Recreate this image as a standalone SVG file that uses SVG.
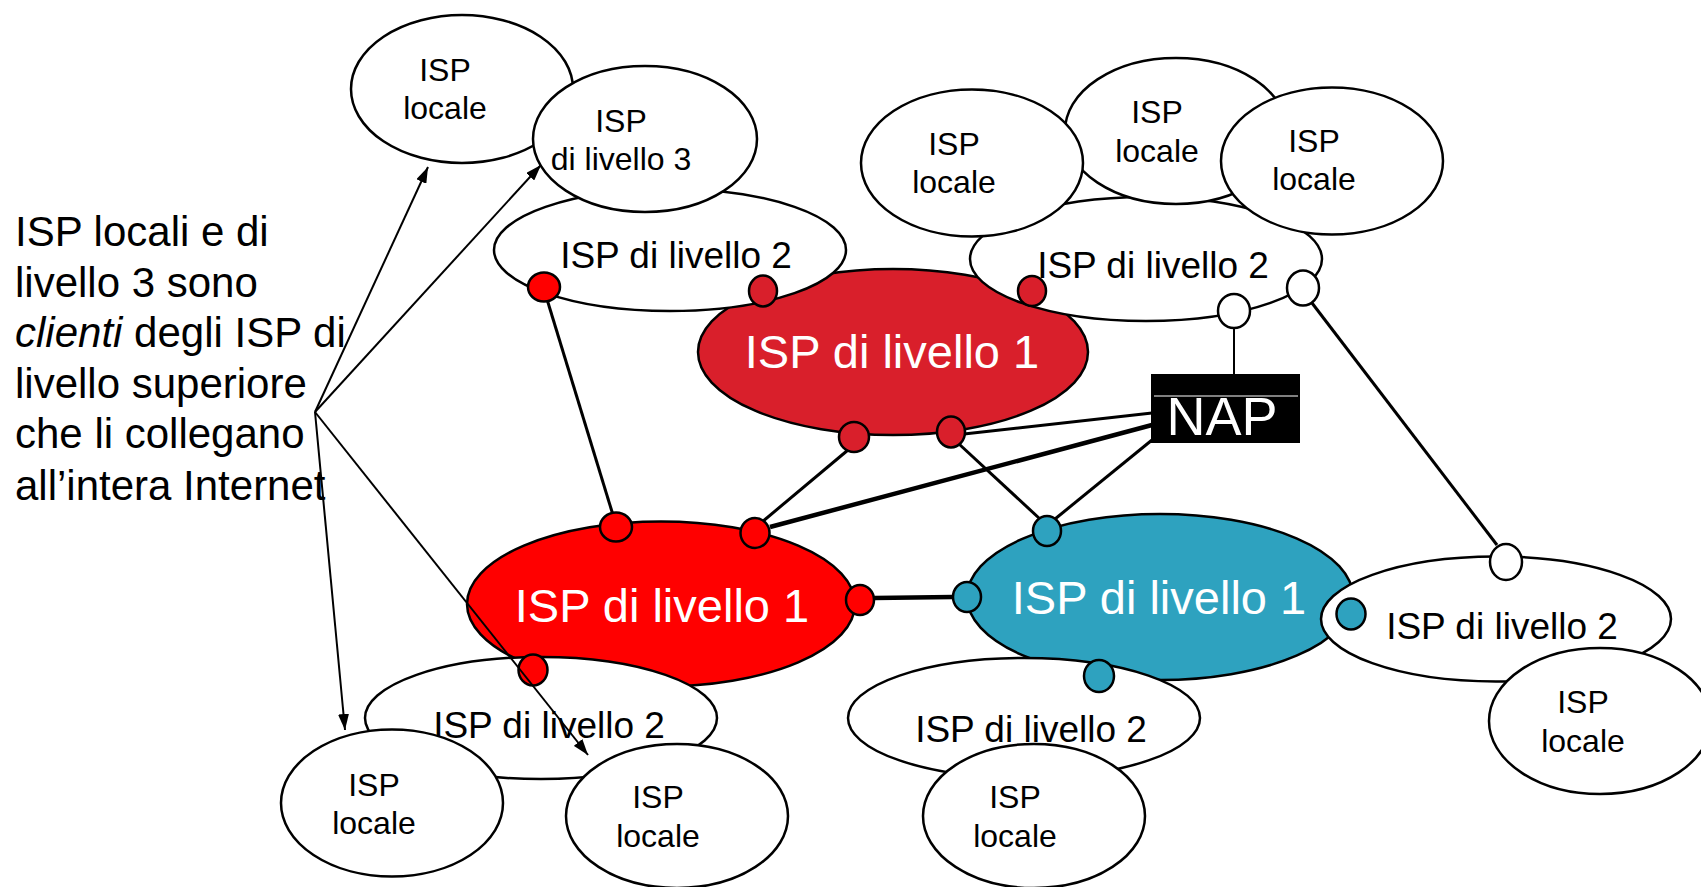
<svg xmlns="http://www.w3.org/2000/svg" width="1701" height="887" viewBox="0 0 1701 887">
<style>
  .el { stroke: #000; stroke-width: 2.5; }
  .w { fill: #fff; }
  .r1 { fill: #D91F2B; }
  .r2 { fill: #FF0000; }
  .tl { fill: #2EA2BF; }
  .t { font-family: "Liberation Sans", Arial, sans-serif; fill: #000; text-anchor: middle; }
  .s31 { font-size: 32px; }
  .s35 { font-size: 37px; }
  .big { font-size: 47px; fill: #fff; }
  .ln { stroke: #000; stroke-width: 3; fill: none; }
  .thick { stroke-width: 4.5; }
  .thin { stroke-width: 2; }
  .ar { stroke: #000; stroke-width: 2; fill: none; marker-end: url(#ah); }
  .port { stroke: #000; stroke-width: 2.5; }
  .lt { font-family: "Liberation Sans", Arial, sans-serif; font-size: 42px; fill: #000; }
</style>
<defs>
  <marker id="ah" markerUnits="userSpaceOnUse" markerWidth="17" markerHeight="11" refX="16" refY="5.5" orient="auto">
    <path d="M0,0 L16,5.5 L0,11 z" fill="#000"/>
  </marker>
</defs>

<g id="locale-tl">
  <ellipse class="el w" cx="462" cy="89" rx="111" ry="74"/>
  <text class="t s31" x="445" y="81">ISP</text>
  <text class="t s31" x="445" y="119">locale</text>
</g>

<g id="tier1-top">
  <ellipse class="el r1" cx="893" cy="352" rx="195" ry="83"/>
  <text class="t big" x="892" y="368">ISP di livello 1</text>
</g>

<g id="tier2-tl">
  <ellipse class="el w" cx="670" cy="250" rx="176" ry="61"/>
  <text class="t s35" x="676" y="268">ISP di livello 2</text>
</g>

<g id="tier3">
  <ellipse class="el w" cx="645" cy="139" rx="112" ry="73"/>
  <text class="t s31" x="621" y="132">ISP</text>
  <text class="t s31" x="621" y="170">di livello 3</text>
</g>

<g id="tier2-tr">
  <ellipse class="el w" cx="1146" cy="259" rx="176" ry="62"/>
  <text class="t s35" x="1153" y="278">ISP di livello 2</text>
</g>

<g id="locale-tr-mid">
  <ellipse class="el w" cx="1176" cy="131" rx="111" ry="73"/>
  <text class="t s31" x="1157" y="123">ISP</text>
  <text class="t s31" x="1157" y="162">locale</text>
</g>
<g id="locale-tr-left">
  <ellipse class="el w" cx="972" cy="163" rx="111" ry="73.5"/>
  <text class="t s31" x="954" y="155">ISP</text>
  <text class="t s31" x="954" y="193">locale</text>
</g>
<g id="locale-tr-right">
  <ellipse class="el w" cx="1332" cy="161" rx="111" ry="73.5"/>
  <text class="t s31" x="1314" y="152">ISP</text>
  <text class="t s31" x="1314" y="190">locale</text>
</g>

<g id="tier1-left">
  <ellipse class="el r2" cx="661" cy="604" rx="194" ry="82.5"/>
  <text class="t big" x="662" y="622">ISP di livello 1</text>
</g>

<g id="tier1-teal">
  <ellipse class="el tl" cx="1160" cy="597" rx="193" ry="83"/>
  <text class="t big" x="1159" y="614">ISP di livello 1</text>
</g>

<g id="tier2-bl">
  <ellipse class="el w" cx="541" cy="718" rx="176" ry="61"/>
  <text class="t s35" x="549" y="738">ISP di livello 2</text>
</g>
<g id="locale-bl-1">
  <ellipse class="el w" cx="392" cy="803" rx="111" ry="73.5"/>
  <text class="t s31" x="374" y="796">ISP</text>
  <text class="t s31" x="374" y="834">locale</text>
</g>
<g id="locale-bl-2">
  <ellipse class="el w" cx="677" cy="816" rx="111" ry="72"/>
  <text class="t s31" x="658" y="808">ISP</text>
  <text class="t s31" x="658" y="847">locale</text>
</g>

<g id="tier2-bm">
  <ellipse class="el w" cx="1024" cy="718" rx="176" ry="60"/>
  <text class="t s35" x="1031" y="742">ISP di livello 2</text>
</g>
<g id="locale-bm">
  <ellipse class="el w" cx="1034" cy="816" rx="111" ry="72"/>
  <text class="t s31" x="1015" y="808">ISP</text>
  <text class="t s31" x="1015" y="847">locale</text>
</g>

<g id="tier2-r">
  <ellipse class="el w" cx="1496" cy="619" rx="175" ry="62.5"/>
  <text class="t s35" x="1502" y="639">ISP di livello 2</text>
</g>
<g id="locale-r">
  <ellipse class="el w" cx="1600" cy="721" rx="111" ry="73"/>
  <text class="t s31" x="1583" y="713">ISP</text>
  <text class="t s31" x="1583" y="752">locale</text>
</g>

<g id="nap">
  <rect x="1151" y="374" width="149" height="69" fill="#000"/>
  <line x1="1154" y1="396" x2="1298" y2="396" stroke="#fff" stroke-width="1"/>
  <text x="1222" y="435" font-family="Liberation Sans, Arial, sans-serif" font-size="54" fill="#fff" text-anchor="middle">NAP</text>
</g>

<g id="connectors">
  <line class="ln" x1="546" y1="296" x2="613" y2="515"/>
  <line class="ln" x1="848" y1="450" x2="762" y2="522"/>
  <line class="ln" x1="959" y1="444" x2="1040" y2="519"/>
  <line class="ln" x1="964" y1="434" x2="1152" y2="413"/>
  <line class="ln thick" x1="1152" y1="425" x2="770" y2="527"/>
  <line class="ln" x1="1152" y1="440" x2="1055" y2="519"/>
  <line class="ln thick" x1="874" y1="598" x2="953" y2="597"/>
  <line class="ln thin" x1="1234" y1="328" x2="1234" y2="374"/>
  <line class="ln" x1="1312" y1="303" x2="1497" y2="545"/>
</g>

<g id="ports">
  <ellipse class="port r2" cx="544" cy="287" rx="16" ry="14.5"/>
  <ellipse class="port r1" cx="763" cy="291" rx="14" ry="15.5"/>
  <ellipse class="port r1" cx="1032" cy="291" rx="14" ry="15"/>
  <ellipse class="port w" cx="1234" cy="311" rx="16" ry="17"/>
  <ellipse class="port w" cx="1303" cy="288" rx="16" ry="17.5"/>
  <ellipse class="port r1" cx="854" cy="437" rx="15" ry="15"/>
  <ellipse class="port r1" cx="951" cy="432" rx="14" ry="15.5"/>
  <ellipse class="port r2" cx="616" cy="527" rx="16" ry="14.5"/>
  <ellipse class="port r2" cx="755" cy="533" rx="14.5" ry="15"/>
  <ellipse class="port r2" cx="860" cy="600" rx="14" ry="15"/>
  <ellipse class="port r2" cx="533" cy="670" rx="14.5" ry="15.5"/>
  <ellipse class="port tl" cx="1047" cy="531" rx="14" ry="15"/>
  <ellipse class="port tl" cx="967" cy="597" rx="14" ry="15"/>
  <ellipse class="port tl" cx="1351" cy="614" rx="14.5" ry="15.5"/>
  <ellipse class="port w" cx="1506" cy="562" rx="16" ry="18"/>
  <ellipse class="port tl" cx="1099" cy="676" rx="15" ry="16"/>
</g>

<g id="note">
  <text class="lt" x="15" y="246">ISP locali e di</text>
  <text class="lt" x="15" y="297">livello 3 sono</text>
  <text class="lt" x="15" y="347"><tspan font-style="italic">clienti</tspan> degli ISP di</text>
  <text class="lt" x="15" y="398">livello superiore</text>
  <text class="lt" x="15" y="448">che li collegano</text>
  <text class="lt" x="15" y="500">all’intera Internet</text>
</g>

<g id="arrows">
  <line class="ar" x1="315" y1="412" x2="428" y2="167"/>
  <line class="ar" x1="315" y1="412" x2="541" y2="165"/>
  <line class="ar" x1="315" y1="412" x2="345" y2="730"/>
  <line class="ar" x1="315" y1="412" x2="588" y2="755"/>
</g>
</svg>
